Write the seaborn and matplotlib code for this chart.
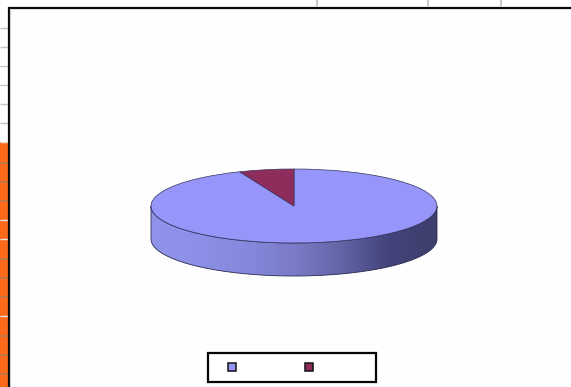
import numpy as np
import matplotlib
matplotlib.use("Agg")
import matplotlib.pyplot as plt
from matplotlib.colors import LinearSegmentedColormap
from matplotlib.lines import Line2D
from matplotlib.patches import Polygon
import seaborn as sns

sns.set_theme(style="white")

# data
categories = ["\u00a0" * 10, "\u00a0" * 10]
shares = [93.8, 6.2]
slice_colors = ["#9696FA", "#8E2C5C"]
side_stops = ["#8F93EA", "#8C90E6", "#8588DC", "#7A7CC8", "#6264A6", "#42437A", "#3E3F6C"]

W, H = 571, 387
fig = plt.figure(figsize=(W / 100, H / 100), dpi=100, facecolor="white")

# spreadsheet behind the chart
bg = fig.add_axes([0, 0, 1, 1])
bg.set_xlim(0, W)
bg.set_ylim(H, 0)
bg.axis("off")
bg.axvspan(0, 8, ymin=0, ymax=1 - 142 / H, color="#FB6A1B", lw=0)
bg.hlines([28, 47, 66, 85, 104, 123], 0, 7.5, color="#C4C4C4", lw=1)
bg.hlines([163, 182, 201, 259, 278, 297, 336, 355, 374], 0, 7.5, color="#B5794F", lw=1.1)
bg.hlines([142, 220, 239, 316], 0, 7.5, color="#EFE2DA", lw=1)
bg.vlines([317, 428, 501], 0, 6, color="#BEBEBE", lw=1.2)
bg.axvspan(8, W, ymin=0, ymax=1 - 7 / H, color="#FEFEFE", lw=0)
bg.plot([8.5, 8.5, W], [H, 7.5, 7.5], color="#0A0A0A", lw=1.6, solid_joinstyle="miter")
bg.vlines(10, 9, H, color="#D0D0D0", lw=0.8)

# pie: top face spans x 151..437, y 169..243 in pixels; side wall goes down to y 276
drop = 33 / 37
ax = fig.add_axes([151 / W, 1 - 276 / H, 286 / W, 107 / H])
t = np.linspace(np.pi, 2 * np.pi, 200)
outline = np.r_[np.c_[np.cos(t), np.sin(t)], np.c_[np.cos(t[::-1]), np.sin(t[::-1]) - drop]]

side_cmap = LinearSegmentedColormap.from_list("side", side_stops)
side = Polygon(outline, closed=True, transform=ax.transData, facecolor="none",
               edgecolor="#2A2A50", lw=0.6, clip_on=False)
ax.add_patch(side)
grad = ax.imshow(np.linspace(0, 1, 256)[None, :], cmap=side_cmap, aspect="auto",
                 extent=(-1, 1, -1 - drop, 0), zorder=0.5)
grad.set_clip_path(side)

wedges, _ = ax.pie(shares, colors=slice_colors, startangle=90, counterclock=False, radius=1,
                   wedgeprops={"edgecolor": "#34345E", "linewidth": 0.5, "clip_on": False})
ax.set_aspect("auto")
ax.set_xlim(-1, 1)
ax.set_ylim(-1 - drop, 1)
ax.axis("off")

# legend with blank labels, as in the source
handles = [Line2D([], [], ls="none", marker="s", ms=6.2, mfc=c, mec="#111111", mew=1.1) for c in slice_colors]
leg = fig.legend(handles, categories, loc="center", bbox_to_anchor=(292 / W, 1 - 367.5 / H),
                 ncol=2, fontsize=10, frameon=True, fancybox=False, edgecolor="#050505",
                 framealpha=1, facecolor="white", borderpad=0.55, handlelength=2.3,
                 handletextpad=0, columnspacing=0.1)
leg.get_frame().set_linewidth(1.6)

fig.savefig("out.png", dpi=100)
